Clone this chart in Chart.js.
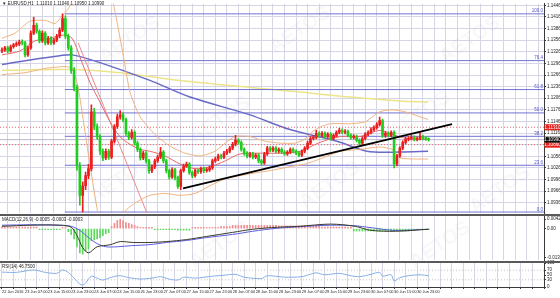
<!DOCTYPE html>
<html>
<head>
<meta charset="utf-8">
<script src="https://cdn.jsdelivr.net/npm/chart.js@4.4.1/dist/chart.umd.min.js"></script>
<style>
  html, body { margin: 0; padding: 0; background: #fff; }
  #wrap { position: relative; width: 560px; height: 298px; overflow: hidden; background: #fff; }
  #wrap canvas { position: absolute; left: 0; top: 0; }
  .sep { position: absolute; left: 0; width: 560px; height: 2px; background: #595959; z-index: 5; }
</style>
</head>
<body>
<div id="wrap">
  <canvas id="main" width="560" height="298"></canvas>
  <canvas id="macd" width="560" height="298"></canvas>
  <canvas id="rsi" width="560" height="298"></canvas>
  <div class="sep" style="top:214px"></div>
  <div class="sep" style="top:261px"></div>
</div>
<script>
// ---- data (EURUSD H1) ----
const timeLabels = ['22 Jun 2016', '23 Jun 07:00', '23 Jun 15:00', '23 Jun 23:00', '24 Jun 07:00',
  '24 Jun 15:00', '26 Jun 23:00', '27 Jun 07:00', '27 Jun 15:00', '27 Jun 23:00', '28 Jun 07:00',
  '28 Jun 15:00', '28 Jun 23:00', '29 Jun 07:00', '29 Jun 15:00', '29 Jun 23:00', '30 Jun 07:00',
  '30 Jun 15:00', '30 Jun 23:00'];

const opens = [
  1.1328,1.1331,1.1336,1.1328,1.1339,1.1344,1.1346,1.1351,1.1349,1.1318,
  1.1336,1.1374,1.1394,1.1379,1.1354,1.1374,1.1349,1.1361,1.1349,1.1356,
  1.1366,1.1382,1.1412,1.1366,1.1336,1.1278,1.1234,1.1031,1.0955,1.0980,
  1.1006,1.1024,1.1171,1.1133,1.1107,1.1069,1.1052,1.1069,1.1054,1.1095,
  1.1133,1.1158,1.1163,1.1151,1.1115,1.1105,1.1118,1.1090,1.1074,1.1052,
  1.1064,1.1044,1.1019,1.1029,1.1044,1.1054,1.1067,1.1044,1.1019,1.1003,
  1.1021,1.1001,1.0978,1.1019,1.1031,1.1036,1.1014,1.1006,1.1019,1.1016,
  1.1024,1.1019,1.1021,1.1026,1.1044,1.1049,1.1057,1.1054,1.1064,1.1069,
  1.1077,1.1087,1.1097,1.1092,1.1074,1.1064,1.1057,1.1062,1.1054,1.1059,
  1.1044,1.1039,1.1062,1.1077,1.1072,1.1077,1.1069,1.1074,1.1067,1.1062,
  1.1067,1.1074,1.1069,1.1064,1.1059,1.1069,1.1077,1.1090,1.1102,1.1105,
  1.1115,1.1110,1.1115,1.1107,1.1113,1.1102,1.1110,1.1118,1.1123,1.1118,
  1.1120,1.1110,1.1105,1.1107,1.1097,1.1090,1.1102,1.1113,1.1118,1.1125,
  1.1130,1.1138,1.1148,1.1110,1.1115,1.1110,1.1118,1.1036,1.1057,1.1077,
  1.1092,1.1100,1.1102,1.1105,1.1100,1.1102,1.1107,1.1102,1.1101];
const highs = [
  1.1336,1.1340,1.1341,1.1343,1.1348,1.1352,1.1356,1.1357,1.1353,1.1340,
  1.1380,1.1415,1.1400,1.1383,1.1380,1.1378,1.1366,1.1365,1.1361,1.1371,
  1.1388,1.1424,1.1419,1.1372,1.1342,1.1285,1.1240,1.1040,1.0990,1.1015,
  1.1035,1.1189,1.1180,1.1140,1.1112,1.1075,1.1075,1.1074,1.1100,1.1138,
  1.1165,1.1174,1.1168,1.1155,1.1120,1.1125,1.1122,1.1095,1.1078,1.1069,
  1.1068,1.1048,1.1034,1.1049,1.1059,1.1079,1.1071,1.1048,1.1023,1.1026,
  1.1025,1.1005,1.1023,1.1036,1.1041,1.1040,1.1018,1.1023,1.1023,1.1028,
  1.1028,1.1026,1.1031,1.1049,1.1054,1.1062,1.1061,1.1069,1.1074,1.1082,
  1.1092,1.1110,1.1102,1.1096,1.1078,1.1068,1.1066,1.1066,1.1063,1.1063,
  1.1048,1.1066,1.1082,1.1081,1.1081,1.1081,1.1078,1.1078,1.1071,1.1071,
  1.1078,1.1078,1.1073,1.1068,1.1073,1.1081,1.1095,1.1107,1.1110,1.1123,
  1.1119,1.1120,1.1119,1.1117,1.1117,1.1114,1.1122,1.1128,1.1127,1.1125,
  1.1124,1.1114,1.1112,1.1111,1.1101,1.1106,1.1117,1.1122,1.1130,1.1135,
  1.1143,1.1157,1.1152,1.1120,1.1119,1.1122,1.1122,1.1061,1.1081,1.1096,
  1.1105,1.1107,1.1110,1.1109,1.1106,1.1117,1.1111,1.1106,1.1104];
const lows = [
  1.1324,1.1327,1.1324,1.1325,1.1335,1.1340,1.1342,1.1344,1.1313,1.1314,
  1.1332,1.1370,1.1374,1.1349,1.1350,1.1344,1.1345,1.1344,1.1345,1.1352,
  1.1362,1.1378,1.1360,1.1330,1.1270,1.1225,1.1020,1.0930,1.0912,1.0970,
  1.0998,1.1018,1.1125,1.1100,1.1060,1.1045,1.1047,1.1048,1.1050,1.1090,
  1.1128,1.1152,1.1145,1.1110,1.1099,1.1100,1.1085,1.1068,1.1046,1.1047,
  1.1038,1.1012,1.1014,1.1024,1.1040,1.1050,1.1039,1.1013,1.0997,1.0999,
  1.0995,1.0973,1.0970,1.1015,1.1027,1.1009,1.1001,1.1002,1.1011,1.1012,
  1.1014,1.1015,1.1017,1.1022,1.1040,1.1045,1.1049,1.1050,1.1060,1.1065,
  1.1073,1.1083,1.1087,1.1069,1.1059,1.1052,1.1053,1.1049,1.1050,1.1039,
  1.1034,1.1035,1.1058,1.1067,1.1068,1.1065,1.1065,1.1063,1.1058,1.1058,
  1.1063,1.1065,1.1060,1.1055,1.1055,1.1065,1.1073,1.1086,1.1098,1.1101,
  1.1105,1.1106,1.1103,1.1103,1.1098,1.1098,1.1106,1.1114,1.1114,1.1114,
  1.1106,1.1100,1.1101,1.1093,1.1085,1.1086,1.1098,1.1109,1.1114,1.1121,
  1.1126,1.1134,1.1105,1.1105,1.1106,1.1106,1.1026,1.1031,1.1053,1.1073,
  1.1088,1.1096,1.1098,1.1096,1.1096,1.1098,1.1098,1.1097,1.1095];
const closes = [
  1.1331,1.1336,1.1328,1.1339,1.1344,1.1346,1.1351,1.1349,1.1318,1.1336,
  1.1374,1.1394,1.1379,1.1354,1.1374,1.1349,1.1361,1.1349,1.1356,1.1366,
  1.1382,1.1412,1.1366,1.1336,1.1278,1.1234,1.1031,1.0955,1.0980,1.1006,
  1.1024,1.1171,1.1133,1.1107,1.1069,1.1052,1.1069,1.1054,1.1095,1.1133,
  1.1158,1.1163,1.1151,1.1115,1.1105,1.1118,1.1090,1.1074,1.1052,1.1064,
  1.1044,1.1019,1.1029,1.1044,1.1054,1.1067,1.1044,1.1019,1.1003,1.1021,
  1.1001,1.0978,1.1019,1.1031,1.1036,1.1014,1.1006,1.1019,1.1016,1.1024,
  1.1019,1.1021,1.1026,1.1044,1.1049,1.1057,1.1054,1.1064,1.1069,1.1077,
  1.1087,1.1097,1.1092,1.1074,1.1064,1.1057,1.1062,1.1054,1.1059,1.1044,
  1.1039,1.1062,1.1077,1.1072,1.1077,1.1069,1.1074,1.1067,1.1062,1.1067,
  1.1074,1.1069,1.1064,1.1059,1.1069,1.1077,1.1090,1.1102,1.1105,1.1115,
  1.1110,1.1115,1.1107,1.1113,1.1102,1.1110,1.1118,1.1123,1.1118,1.1120,
  1.1110,1.1105,1.1107,1.1097,1.1090,1.1102,1.1113,1.1118,1.1125,1.1130,
  1.1138,1.1148,1.1110,1.1115,1.1110,1.1118,1.1036,1.1057,1.1077,1.1092,
  1.1100,1.1102,1.1105,1.1100,1.1102,1.1107,1.1102,1.1101,1.1099];

// indicator lines as [bar, value]
const maFast = [[0,1.1318],[6.2,1.1328],[11.4,1.1354],[16.7,1.1361],[21.2,1.1369],[24.3,1.1361],
  [27.1,1.1311],[30.5,1.1247],[34,1.1196],[37.5,1.1145],[40.9,1.1107],[44.4,1.1087],[47.9,1.1074],
  [51.3,1.1069],[56.5,1.1057],[61.8,1.1036],[67,1.1024],[72.2,1.1029],[77.4,1.1044],[82.6,1.1062],
  [89.5,1.1064],[96.4,1.1064],[103.4,1.1069],[110.3,1.1092],[117.3,1.1107],[124.2,1.1107],
  [131.1,1.1123],[136.3,1.1110],[141.5,1.1100],[147.8,1.1100]];
const bandUpper = [[0,1.1361],[4.5,1.1374],[9.7,1.1405],[15,1.1407],[18.4,1.1399],[21,1.1420],
  [23,1.1437],[25.3,1.1476],[30,1.1560],[35,1.1560],[38.5,1.1455],[41.6,1.1336],[44.4,1.1222],
  [47.9,1.1158],[53,1.1113],[58.3,1.1082],[63.5,1.1064],[68.7,1.1057],[73.9,1.1069],[77.4,1.1090],
  [80.8,1.1107],[86,1.1107],[91.2,1.1095],[96.4,1.1090],[101.6,1.1090],[105,1.1100],[108.6,1.1125],
  [113.8,1.1140],[120.7,1.1140],[126,1.1145],[131,1.1171],[135.3,1.1176],[139.8,1.1171],
  [145,1.1158],[147.8,1.1151]];
const bandLower = [[0,1.1267],[8,1.1272],[15,1.1283],[21.9,1.1288],[24.3,1.1283],[26.4,1.1234],
  [29.8,1.1069],[33.3,1.0909],[35.7,1.0860],[39.2,1.0860],[42,1.0909],[46.1,1.0935],[51.3,1.0955],
  [56.5,1.0960],[61.8,1.0955],[67,1.0960],[72.2,1.0980],[77.4,1.0998],[82.6,1.1006],[87.8,1.1013],
  [93,1.1019],[99.9,1.1029],[105.1,1.1036],[110.3,1.1049],[117.3,1.1069],[124.2,1.1074],
  [131.1,1.1080],[135.3,1.1074],[138.1,1.1052],[143.3,1.1049],[147.8,1.1049]];
const maSlow = [[0,1.1293],[9.7,1.1305],[20.1,1.1316],[24.3,1.1318],[34,1.1298],[51.3,1.1252],
  [65.2,1.1209],[86,1.1163],[99.9,1.1125],[116.2,1.1095],[126.6,1.1069],[138.1,1.1067],[147.8,1.1069]];
const maSlowest = [[0,1.1278],[23.6,1.1280],[40.9,1.1272],[61.8,1.1252],[86,1.1234],[103.4,1.1222],
  [120.7,1.1209],[138.1,1.1199],[147.8,1.1196]];
const crashLine = [[26.4,1.1349],[50.3,1.0909]];
const trendLine = [[62.8,1.0973],[156.1,1.1139]];

const fibLevels = [0, 23.6, 38.2, 50, 61.8, 76.4, 100];
const fibLow = 1.0912, fibHigh = 1.1424, fibStartBar = 21.8;
const dottedLevels = [1.1131, 1.1086];
const bidPrice = 1.1099;
const priceTicks = [1.1446,1.1416,1.1386,1.1356,1.1326,1.1296,1.1266,1.1236,1.1206,1.1176,
  1.1146,1.1116,1.1086,1.1056,1.1026,1.0996,1.0966,1.0936];

const macdHist = [
  0.0007,0.0007,0.0007,0.0007,0.0007,0.0007,0.0007,0.0007,0.0007,0.0007,
  0.0007,0.0007,0.0007,-0.0005,-0.0005,-0.0005,-0.0005,-0.0005,-0.0005,-0.0005,
  -0.0005,0.0005,0.0005,-0.0014,-0.0027,-0.0046,-0.0082,-0.0109,-0.0114,-0.0100,
  -0.0091,-0.0055,-0.0050,-0.0046,-0.0041,-0.0032,-0.0023,-0.0018,0.0009,0.0023,
  0.0036,0.0041,0.0036,0.0027,0.0023,0.0018,0.0014,0.0009,0.0005,0.0005,
  0.0005,0.0005,0.0005,-0.0005,-0.0005,-0.0005,-0.0005,-0.0005,-0.0005,-0.0005,
  -0.0005,-0.0007,-0.0007,-0.0007,-0.0007,-0.0007,0.0005,0.0005,0.0005,0.0005,
  0.0005,0.0005,0.0005,0.0005,0.0005,0.0005,0.0009,0.0009,0.0009,0.0009,
  0.0014,0.0014,0.0014,0.0014,0.0014,0.0014,0.0014,0.0014,0.0014,0.0014,
  0.0014,0.0014,0.0014,0.0014,0.0014,0.0014,0.0012,0.0012,0.0012,0.0012,
  0.0012,0.0012,0.0012,0.0012,0.0012,0.0012,0.0012,0.0012,0.0012,0.0012,
  0.0012,0.0007,0.0007,0.0007,0.0007,0.0007,0.0007,0.0007,0.0007,0.0007,
  0.0007,0.0007,-0.0011,-0.0011,-0.0011,-0.0011,-0.0011,-0.0011,-0.0011,-0.0011,
  -0.0011,-0.0011,-0.0011,-0.0011,-0.0011,-0.0011,-0.0011,-0.0011,-0.0011,-0.0011,
  -0.0011,-0.0011,-0.0005,-0.0005,-0.0005,-0.0005,-0.0005,-0.0005,-0.0005];
const macdMain = [[0,0.0010],[10,0.0015],[20,0.0015],[24,0.0006],[26,-0.0031],[28,-0.0085],
  [30,-0.0108],[33,-0.0081],[37.5,-0.0072],[41,-0.0058],[45.5,-0.0062],[51,-0.0062],[57,-0.0058],
  [64,-0.0049],[71,-0.0035],[80,-0.0017],[87,-0.0003],[95.5,0.0006],[103,0.0010],[114,0.0020],
  [122.5,0.0010],[128,-0.0008],[136.5,-0.0012],[148,-0.0003]];
const macdSignal = [[0,0.0015],[10,0.0017],[20,0.0015],[24,0.0010],[27,-0.0008],[30,-0.0040],
  [33,-0.0067],[36,-0.0081],[40,-0.0081],[45,-0.0076],[51,-0.0072],[57,-0.0062],[64,-0.0053],
  [71,-0.0040],[80,-0.0026],[87,-0.0012],[95,0.0001],[103,0.0008],[114,0.0015],[122,0.0013],
  [128,0.0004],[136,-0.0008],[148,-0.0003]];
const macdTicks = [0.0042, 0, -0.0130];

const rsi = [[0,62],[5,61],[11,71],[15,61],[19,57],[21,71],[23,61],[25,37],[27,12],[28,8],[29,16],
  [31,45],[33,37],[35,29],[38,41],[41,47],[44,39],[48,33],[52,37],[55,43],[58,33],[61,29],[63,41],
  [67,37],[73,45],[77,49],[81,53],[84,41],[90,35],[92,47],[98,41],[104,43],[107,53],[109,59],
  [112,51],[117,57],[121,47],[124,43],[128,53],[131,61],[132,45],[135,51],[136,25],[138,39],
  [141,47],[145,51],[148,46.75]];
const rsiLevels = [70, 30];
const rsiTicks = [100, 70, 50, 30, 0];

// ---- setup ----
const X_MIN = -0.69, X_MAX = 188.0;
const GRID = '#d5d5e5', AXIS = '#3a3a3a';
const UP = '#ee1c1c', DOWN = '#1fcc1f';
const FONT = '"Liberation Sans", Arial, sans-serif';

Chart.defaults.font.family = FONT;
Chart.defaults.font.size = 4.5;
Chart.defaults.color = '#222';
Chart.defaults.animation = false;
Chart.defaults.plugins.legend.display = false;
Chart.defaults.plugins.tooltip.enabled = false;

const pts = arr => arr.map(([x, y]) => ({ x, y }));

function line(data, color, width, extra) {
  return Object.assign({ type: 'line', data, borderColor: color, borderWidth: width,
    pointRadius: 0, tension: 0.3, order: 5 }, extra || {});
}

function xAxis(showLabels) {
  return {
    type: 'linear', min: X_MIN, max: X_MAX, offset: false,
    grid: { color: GRID, drawTicks: showLabels, tickLength: 2, tickColor: AXIS },
    border: { display: showLabels, color: AXIS },
    ticks: { display: showLabels, autoSkip: false, maxRotation: 0, align: 'start', padding: 1,
      font: { size: 3.9 },
      callback: v => (v % 8 === 0 && timeLabels[v / 8]) ? timeLabels[v / 8] : '' },
    afterBuildTicks: s => {
      const t = [];
      for (let v = 0; v <= X_MAX; v += 4) t.push({ value: v });
      s.ticks = t;
    },
    afterFit: s => { s.height = showLabels ? 11 : 0; }
  };
}

function yAxis(min, max, ticks, fmt, gridOn) {
  return {
    position: 'right', min, max,
    grid: { drawOnChartArea: gridOn, color: GRID, tickLength: 2, tickColor: AXIS },
    border: { color: AXIS, width: 1 },
    ticks: { padding: 1, autoSkip: false, callback: fmt },
    afterBuildTicks: s => { s.ticks = ticks.map(v => ({ value: v })); },
    afterFit: s => { s.width = 16; }
  };
}

const fmt5 = v => v.toFixed(5);

// ---- main price pane ----
const bodyColors = closes.map((c, i) => c >= opens[i] ? UP : DOWN);
const fibPrice = lv => fibLow + (fibHigh - fibLow) * lv / 100;

const mainDatasets = [
  { type: 'bar', data: closes.map((c, i) => ({ x: i, y: [opens[i], c] })),
    backgroundColor: bodyColors, barThickness: 2, minBarLength: 1, grouped: false, order: 2 },
  { type: 'bar', data: closes.map((c, i) => ({ x: i, y: [lows[i], highs[i]] })),
    backgroundColor: bodyColors, barThickness: 1, grouped: false, order: 3 },
  line(pts(maSlowest), '#ede38a', 1.5, { order: 9 }),
  line(pts(maSlow), '#6a6ac6', 1.5, { order: 8 }),
  line(pts(bandUpper), '#f1b27c', 1, { tension: 0.2 }),
  line(pts(bandLower), '#f1b27c', 1, { tension: 0.2 }),
  line(pts(maFast), '#e56a6a', 1),
  line(pts(crashLine), '#ea8a8a', 1, { tension: 0 }),
  line(pts([[X_MIN, bidPrice], [X_MAX, bidPrice]]), '#b9b9cc', 1, { tension: 0, order: 10 }),
  line(pts(trendLine), '#000000', 1.8, { tension: 0, order: 0 })
];
fibLevels.forEach(lv => mainDatasets.push(
  line(pts([[fibStartBar, fibPrice(lv)], [X_MAX, fibPrice(lv)]]), '#7373d2', 1, { tension: 0, order: 7 })));
dottedLevels.forEach(p => mainDatasets.push(
  line(pts([[X_MIN, p], [X_MAX, p]]), '#e86a6a', 1, { tension: 0, borderDash: [1, 2], order: 7 })));

const mainOverlay = {
  id: 'mainOverlay',
  beforeDatasetsDraw(chart) {
    const ctx = chart.ctx;
    ctx.save();
    ctx.fillStyle = 'rgba(120,120,140,0.05)';
    ctx.font = 'bold 20px ' + FONT;
    ctx.textAlign = 'center';
    ctx.textBaseline = 'middle';
    [[130, 40], [300, 30], [470, 40], [220, 120], [420, 115], [120, 180], [330, 185], [500, 190],
     [220, 245], [440, 245]].forEach(([x, y]) => {
      ctx.save(); ctx.translate(x, y); ctx.rotate(-0.6); ctx.fillText('AETOS', 0, 0); ctx.restore();
    });
    ctx.restore();
  },
  afterDraw(chart) {
    const ctx = chart.ctx, a = chart.chartArea, ys = chart.scales.y;
    ctx.save();
    ctx.font = '4.5px ' + FONT;
    ctx.textAlign = 'right';
    ctx.textBaseline = 'bottom';
    ctx.fillStyle = '#5656c4';
    fibLevels.forEach(lv => ctx.fillText(lv.toFixed(1), a.right - 1, ys.getPixelForValue(fibPrice(lv)) - 0.5));

    const box = (p, color) => {
      const y = ys.getPixelForValue(p);
      ctx.fillStyle = color;
      ctx.fillRect(a.right + 0.5, y - 3, 16, 6);
      ctx.fillStyle = '#fff';
      ctx.textAlign = 'center';
      ctx.textBaseline = 'middle';
      ctx.fillText(p.toFixed(5), a.right + 8.5, y + 0.3);
    };
    box(dottedLevels[0], '#e8201c');
    box(dottedLevels[1], '#e8201c');
    box(bidPrice, '#111');

    const n = closes.length - 1;
    ctx.fillStyle = '#222';
    ctx.textAlign = 'left';
    ctx.textBaseline = 'top';
    ctx.fillText('\u25BC EURUSD,H1  ' + [opens[n], highs[n], lows[n], closes[n]].map(fmt5).join(' '), 2, 2);
    ctx.restore();
  }
};

new Chart(document.getElementById('main'), {
  type: 'bar',
  data: { datasets: mainDatasets },
  options: {
    responsive: false,
    layout: { autoPadding: false, padding: { top: 0, bottom: 85, left: 0, right: 0 } },
    scales: {
      x: xAxis(false),
      y: yAxis(1.09095, 1.14502, priceTicks, fmt5, true)
    }
  },
  plugins: [mainOverlay]
});

// ---- MACD pane ----
new Chart(document.getElementById('macd'), {
  type: 'bar',
  data: {
    datasets: [
      { type: 'bar', data: macdHist.map((v, i) => ({ x: i, y: v })),
        backgroundColor: macdHist.map(v => v >= 0 ? '#f08c8c' : '#5ad85a'),
        barThickness: 1, grouped: false, order: 3 },
      line(pts(macdMain), '#3a3a2a', 1, { order: 1 }),
      line(pts(macdSignal), '#5c5ce0', 1, { order: 2 })
    ]
  },
  options: {
    responsive: false,
    layout: { autoPadding: false, padding: { top: 216, bottom: 38, left: 0, right: 0 } },
    scales: {
      x: xAxis(false),
      y: yAxis(-0.0140, 0.0056, macdTicks, v => v === 0 ? '0.00' : v.toFixed(6), false)
    }
  },
  plugins: [{
    id: 'macdTitle',
    afterDraw(chart) {
      const ctx = chart.ctx, n = macdHist.length - 1;
      ctx.save();
      ctx.font = '4.5px ' + FONT;
      ctx.fillStyle = '#222';
      ctx.textBaseline = 'top';
      ctx.fillText('MACD(12,26,9) ' + macdHist[n].toFixed(4) + ' ' +
        macdMain[macdMain.length - 1][1].toFixed(4) + ' ' + macdSignal[macdSignal.length - 1][1].toFixed(4),
        2, chart.chartArea.top + 2);
      ctx.restore();
    }
  }]
});

// ---- RSI pane ----
const rsiDatasets = [line(pts(rsi), '#86aee6', 1, { order: 1 })];
rsiLevels.forEach(l => rsiDatasets.push(
  line(pts([[X_MIN, l], [X_MAX, l]]), '#c4c4c4', 1, { tension: 0, borderDash: [1, 2], order: 4 })));

new Chart(document.getElementById('rsi'), {
  type: 'line',
  data: { datasets: rsiDatasets },
  options: {
    responsive: false,
    layout: { autoPadding: false, padding: { top: 263, bottom: 0, left: 0, right: 0 } },
    scales: {
      x: xAxis(true),
      y: yAxis(0, 100, rsiTicks, v => String(v), false)
    }
  },
  plugins: [{
    id: 'rsiTitle',
    afterDraw(chart) {
      const ctx = chart.ctx;
      ctx.save();
      ctx.font = '4.5px ' + FONT;
      ctx.fillStyle = '#222';
      ctx.textBaseline = 'top';
      ctx.fillText('RSI(14) ' + rsi[rsi.length - 1][1].toFixed(4), 2, chart.chartArea.top + 2);
      ctx.restore();
    }
  }]
});
</script>
</body>
</html>
